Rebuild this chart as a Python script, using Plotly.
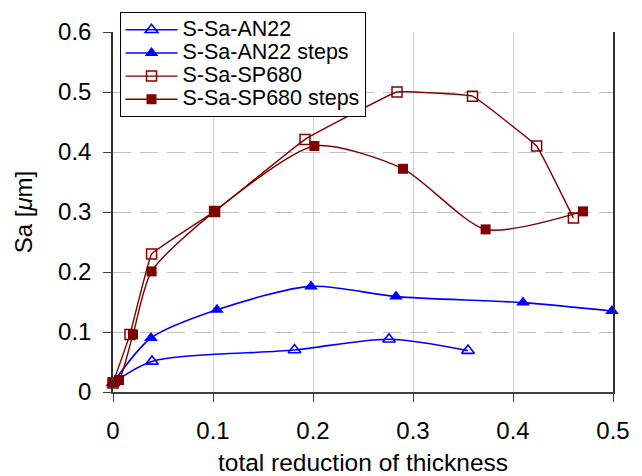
import plotly.graph_objects as go

an22_x = [0.0, 0.039, 0.1815, 0.276, 0.355]
an22_y = [0.015, 0.051, 0.070, 0.088, 0.069]

an22s_x = [0.0, 0.038, 0.104, 0.198, 0.283, 0.410, 0.499]
an22s_y = [0.015, 0.090, 0.137, 0.176, 0.159, 0.149, 0.135]

sp_x = [0.0, 0.017, 0.0386, 0.1016, 0.192, 0.284, 0.3595, 0.4236, 0.4604]
sp_y = [0.015, 0.096, 0.230, 0.301, 0.421, 0.500, 0.493, 0.410, 0.290]

sps_x = [0.0, 0.006, 0.020, 0.0386, 0.1016, 0.2014, 0.290, 0.3726, 0.470]
sps_y = [0.016, 0.020, 0.096, 0.201, 0.301, 0.410, 0.372, 0.271, 0.301]

names = ["S-Sa-AN22", "S-Sa-AN22 steps", "S-Sa-SP680", "S-Sa-SP680 steps"]
BLUE = "#0000FF"
RED = "#800000"


def lbl(s):
    return '<span style="font-size:21.5px">' + s + '</span>'


fig = go.Figure()
fig.add_trace(go.Scatter(x=an22_x, y=an22_y, name=lbl(names[0]), mode="lines+markers",
                         line=dict(color=BLUE, width=1.6, shape="spline", smoothing=0.8),
                         marker=dict(symbol="triangle-up-open", size=11, color=BLUE, line=dict(width=1.6)),
                         cliponaxis=False))
fig.add_trace(go.Scatter(x=an22s_x, y=an22s_y, name=lbl(names[1]), mode="lines+markers",
                         line=dict(color=BLUE, width=1.6, shape="spline", smoothing=0.8),
                         marker=dict(symbol="triangle-up", size=12, color=BLUE),
                         cliponaxis=False))
fig.add_trace(go.Scatter(x=sp_x, y=sp_y, name=lbl(names[2]), mode="lines+markers",
                         line=dict(color=RED, width=1.4, shape="spline", smoothing=0.2),
                         marker=dict(symbol="square-open", size=10, color=RED, line=dict(width=1.5)),
                         cliponaxis=False))
fig.add_trace(go.Scatter(x=sps_x, y=sps_y, name=lbl(names[3]), mode="lines+markers",
                         line=dict(color=RED, width=1.4, shape="spline", smoothing=0.7),
                         marker=dict(symbol="square", size=10, color=RED),
                         cliponaxis=False))

font = "Liberation Sans, Arial, sans-serif"
fig.update_layout(
    width=642, height=476,
    margin=dict(l=113, r=29, t=30, b=84),
    paper_bgcolor="white", plot_bgcolor="white",
    font=dict(family=font, size=24, color="black"),
    showlegend=True,
    legend=dict(x=0.013, y=1.055, xanchor="left", yanchor="top",
                bgcolor="white", bordercolor="black", borderwidth=1,
                font=dict(size=15.5), tracegroupgap=0, itemwidth=52),
    xaxis=dict(range=[0, 0.5], tickvals=[0, 0.1, 0.2, 0.3, 0.4, 0.5],
               ticktext=["0", "0.1", "0.2", "0.3", "0.4", "0.5"],
               showgrid=True, gridcolor="#d0d0d0", gridwidth=1,
               showline=True, linecolor="#404040", linewidth=2,
               ticks="outside", ticklen=8, tickcolor="#404040",
               ticklabelstandoff=8, automargin=False,
               zeroline=False,
               title=dict(text="total reduction of thickness", standoff=12, font=dict(size=24.5))),
    yaxis=dict(range=[0, 0.6], tickvals=[0, 0.1, 0.2, 0.3, 0.4, 0.5, 0.6],
               ticktext=["0", "0.1", "0.2", "0.3", "0.4", "0.5", "0.6"],
               showgrid=True, gridcolor="#c0c0c0", gridwidth=1, griddash="18px,9px",
               showline=True, linecolor="#303030", linewidth=1.5, mirror=True,
               ticks="outside", ticklen=8, tickcolor="#404040",
               ticklabelstandoff=7, automargin=False,
               zeroline=False,
               title=dict(text="Sa [<i>μ</i>m]", standoff=19, font=dict(size=24))),
)

fig.write_html("out.html")
